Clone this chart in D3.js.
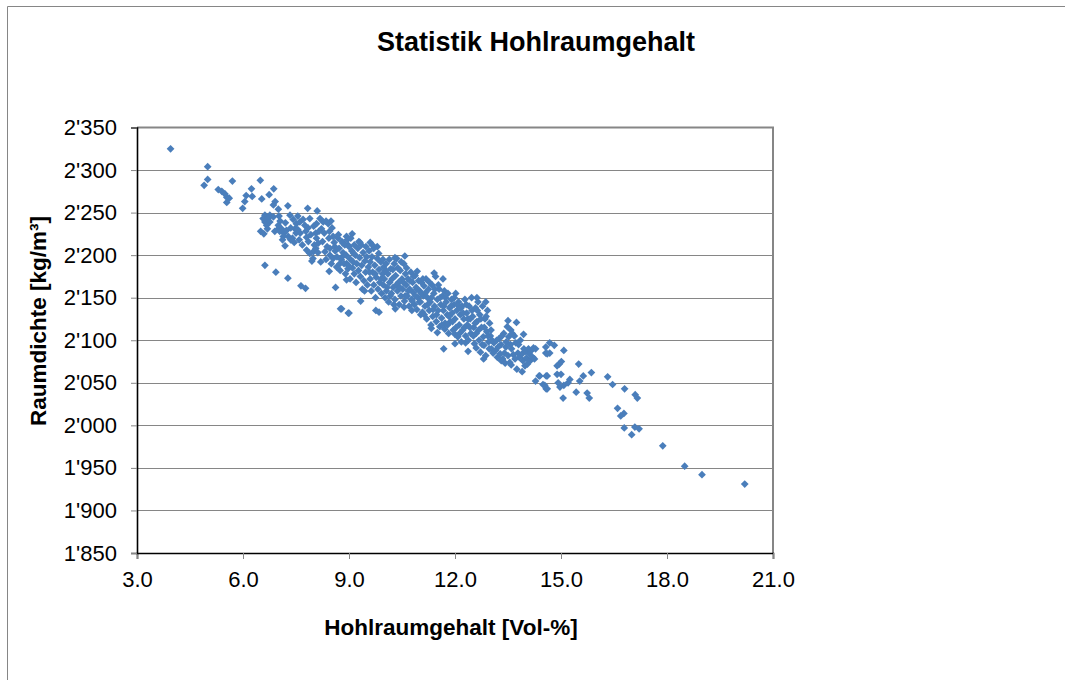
<!DOCTYPE html>
<html>
<head>
<meta charset="utf-8">
<script src="https://cdn.jsdelivr.net/npm/d3@7"></script>
<style>
  body { margin: 0; background: #fff; }
  text { font-family: "Liberation Sans", Arial, sans-serif; fill: #000; }
</style>
</head>
<body>
<div id="chart"></div>
<script>
const chartTitle = "Statistik Hohlraumgehalt";
const xLabel = "Hohlraumgehalt [Vol-%]";
const yLabel = "Raumdichte [kg/m³]";
const xTicks = [3, 6, 9, 12, 15, 18, 21];
const yTicks = [1850, 1900, 1950, 2000, 2050, 2100, 2150, 2200, 2250, 2300, 2350];

// same order in both arrays
const voidContent = [
  3.95,5.0,5.0,4.9,5.7,5.3,5.4,5.49,5.54,5.61,5.54,6.49,6.24,6.87,6.09,6.26,6.74,6.53,6.05,5.99,6.91,6.86,7.27,7.0,7.83,8.1,
  6.62,6.93,7.27,7.64,7.77,8.62,8.76,8.98,8.44,7.95,7.19,6.5,6.59,
  6.62,6.76,6.57,6.71,6.86,6.62,6.76,6.67,6.69,6.9,7.0,7.09,7.04,7.16,7.23,7.0,7.02,7.47,7.51,7.33,7.42,7.61,7.75,7.89,7.84,8.08,8.27,8.49,8.41,8.22,
  7.4,7.59,7.8,8.06,8.08,8.13,8.43,8.55,8.69,8.93,8.83,8.97,8.46,8.6,8.32,8.46,8.55,8.65,8.74,8.93,8.97,7.99,7.8,8.06,7.89,8.93,8.83,7.14,
  9.09,9.6,9.8,9.31,10.3,10.58,10.93,11.41,11.66,12.62,12.87,13.5,13.74,13.94,
  8.79,9.0,9.33,9.76,9.85,10.31,10.56,10.78,11.03,11.33,11.5,11.71,12.0,12.0,11.68,12.3,12.37,12.6,12.81,13.31,13.59,13.9,14.28,14.38,14.58,14.58,14.49,
  8.52,8.58,8.61,8.66,8.7,8.72,8.75,8.78,8.8,8.83,8.86,8.88,8.9,8.92,8.95,8.98,
  9.0,9.02,9.03,9.05,9.08,9.1,9.12,9.15,9.15,9.18,9.2,9.22,9.25,9.27,9.3,9.32,9.35,9.36,9.38,9.4,9.42,9.45,9.47,9.48,
  9.5,9.52,9.55,9.57,9.6,9.6,9.63,9.65,9.67,9.7,9.7,9.73,9.75,9.77,9.8,9.82,9.85,9.87,9.9,9.92,9.95,9.97,9.98,
  10.0,10.02,10.05,10.08,10.1,10.12,10.15,10.18,10.2,10.22,10.25,10.28,10.3,10.32,10.35,10.37,10.4,10.42,10.45,10.47,10.5,
  10.52,10.55,10.57,10.6,10.62,10.65,10.67,10.7,10.72,10.75,10.77,10.8,10.82,10.85,10.87,10.9,10.92,10.95,10.97,
  11.0,11.02,11.05,11.08,11.1,11.12,11.15,11.18,11.2,11.22,11.25,11.27,11.3,11.32,11.35,11.37,11.4,11.42,11.45,11.47,11.5,
  11.52,11.55,11.57,11.6,11.62,11.65,11.67,11.7,11.72,11.75,11.78,11.8,11.82,11.85,11.87,11.9,11.92,11.95,11.97,
  12.0,12.02,12.05,12.08,12.1,12.12,12.15,12.18,12.2,12.22,12.25,12.28,12.3,12.33,12.35,12.38,12.4,12.43,12.45,12.47,
  12.5,12.53,12.55,12.58,12.6,12.62,12.65,12.68,12.7,12.72,12.75,12.78,12.8,12.82,12.85,12.87,12.9,12.92,12.95,12.98,
  13.0,13.03,13.05,13.1,13.15,13.18,13.2,13.25,13.3,13.35,13.38,13.4,13.42,13.45,13.48,
  13.5,13.52,13.55,13.58,13.6,13.65,13.68,13.72,13.75,13.78,13.82,13.85,13.9,13.92,13.95,13.98,
  14.0,14.02,14.05,14.08,14.1,14.13,14.16,14.2,14.22,14.25,14.28,
  14.68,14.81,14.57,15.08,14.57,14.68,14.61,15.01,14.95,14.89,15.5,15.86,15.63,16.32,16.46,15.53,15.25,16.8,17.1,17.16,
  14.89,15.0,14.61,14.4,14.92,14.97,15.08,15.2,14.54,14.61,15.43,15.74,15.8,15.06,16.6,16.78,16.69,16.79,17.09,17.21,17.0,17.88,18.5,18.99,20.2,
  7.05,7.12,7.2,7.28,7.35,7.45,7.5,7.55,7.62,7.7,7.68,7.78,7.85,7.92,7.98,8.0,8.02,8.12,8.15,8.2,8.25,8.3,8.35,8.38,8.45,8.5,8.18,8.35,7.55,7.35,
  9.13,9.28,9.44,9.58,9.66,9.74,9.84,9.91,9.96,10.03,10.06,10.14,10.17,10.24,10.27,10.34,10.38,10.44,10.48,10.54,10.59,10.63,10.68,10.73,10.79,10.83,10.88,10.93,10.99,
  11.04,11.09,11.13,11.17,11.23,11.28,11.33,11.38,11.43,11.48,11.53,11.58,11.63,11.68,11.73,11.79,11.83,11.88,11.93,11.98,
  12.03,12.07,12.13,12.17,12.23,12.27,12.32,12.37,12.42,12.48,12.52,12.57,12.63,12.67,12.73,12.77,12.83,12.88,12.93,12.97,
  13.02,13.08,13.22,13.28,13.33,13.44,13.57,13.62,13.7,13.8
];
const bulkDensity = [
  2325,2304,2289,2282,2287,2277,2275,2272,2268,2267,2262,2288,2278,2278,2270,2269,2271,2266,2263,2255,2263,2259,2258,2254,2255,2252,
  2188,2180,2173,2164,2161,2162,2137,2132,2181,2193,2211,2228,2225,
  2247,2247,2243,2243,2245,2239,2239,2235,2231,2228,2231,2231,2228,2226,2229,2235,2246,2231,2237,2247,2242,2239,2235,2243,2232,2237,2239,2240,2237,2231,
  2220,2218,2221,2226,2220,2214,2220,2222,2220,2222,2214,2212,2208,2210,2204,2200,2196,2186,2190,2190,2184,2204,2206,2208,2202,2171,2199,2222,
  2225,2215,2210,2215,2197,2199,2181,2179,2172,2150,2145,2123,2121,2107,
  2137,2132,2146,2135,2133,2137,2139,2135,2130,2114,2109,2113,2107,2096,2090,2097,2087,2091,2078,2076,2071,2063,2052,2058,2058,2043,2048,
  2232,2215,2205,2198,2224,2208,2182,2195,2216,2203,2190,2212,2178,2200,2218,2188,
  2210,2196,2172,2220,2205,2185,2192,2212,2178,2200,2168,2190,2208,2182,2197,2175,2212,2188,2160,2203,2170,2193,2180,2210,
  2198,2165,2186,2205,2172,2192,2158,2198,2180,2208,2165,2188,2150,2174,2196,2160,2183,2168,2192,2155,2178,2165,2186,
  2172,2150,2190,2162,2178,2145,2168,2184,2155,2172,2162,2190,2148,2176,2196,2158,2168,2142,2182,2152,2172,
  2160,2190,2146,2178,2165,2152,2172,2140,2160,2180,2148,2168,2156,2142,2176,2162,2136,2150,2170,
  2158,2145,2168,2133,2152,2164,2140,2172,2125,2150,2160,2135,2145,2118,2165,2128,2155,2140,2175,2122,2148,
  2135,2160,2116,2142,2126,2152,2135,2158,2120,2145,2130,2155,2108,2138,2122,2148,2132,2112,2142,
  2125,2155,2135,2104,2145,2118,2130,2098,2140,2112,2125,2148,2105,2132,2118,2100,2140,2125,2108,2150,
  2128,2115,2096,2138,2108,2122,2145,2100,2130,2086,2115,2140,2104,2094,2125,2082,2110,2135,2098,2120,
  2105,2090,2100,2097,2088,2100,2080,2102,2095,2078,2108,2085,2073,2098,2116,
  2082,2104,2074,2112,2090,2083,2105,2097,2066,2085,2080,2100,2084,2076,2090,2070,
  2087,2079,2072,2090,2084,2076,2088,2080,2091,2078,2090,
  2097,2094,2092,2088,2085,2085,2084,2075,2072,2070,2072,2062,2058,2057,2048,2052,2054,2043,2036,2032,
  2060,2060,2058,2058,2050,2045,2047,2050,2047,2043,2039,2038,2032,2032,2020,2014,2011,1997,1998,1996,1989,1976,1952,1942,1931,
  2240,2218,2238,2222,2232,2215,2226,2246,2226,2242,2212,2228,2216,2224,2196,2234,2212,2203,2228,2192,2216,2226,2195,2210,2228,2190,2243,2240,2230,2218,
  2202,2216,2158,2180,2212,2178,2202,2172,2195,2182,2158,2195,2152,2183,2142,2165,2185,2162,2192,2168,2152,2185,2158,2170,2146,2175,2152,2160,2145,
  2155,2172,2130,2156,2142,2168,2150,2136,2160,2130,2165,2150,2118,2140,2150,2118,2128,2140,2122,2150,
  2115,2142,2108,2138,2132,2115,2142,2125,2115,2135,2105,2120,2135,2112,2125,2095,2115,2128,2105,2090,
  2112,2085,2092,2084,2105,2092,2095,2108,2078,2095
];

const width = 1065;
const height = 680;
const plot = { left: 137, right: 773, top: 127.5, bottom: 553 };
const gridColor = "#868686";

const svg = d3.select("#chart").append("svg")
  .attr("width", width)
  .attr("height", height)
  .style("display", "block");

const x = d3.scaleLinear().domain([3, 21]).range([plot.left, plot.right]);
const y = d3.scaleLinear().domain([1850, 2350]).range([plot.bottom, plot.top]);

// outer chart frame, only top and left edges are in view
svg.append("path")
  .attr("d", `M7.5,${height} V6.5 H${width}`)
  .attr("fill", "none")
  .attr("stroke", gridColor)
  .attr("stroke-width", 1);

svg.append("g")
  .selectAll("line")
  .data(yTicks.slice(1, -1))
  .join("line")
  .attr("x1", plot.left)
  .attr("x2", plot.right)
  .attr("y1", d => Math.round(y(d)) + 0.5)
  .attr("y2", d => Math.round(y(d)) + 0.5)
  .attr("stroke", gridColor)
  .attr("stroke-width", 1);

// top and right edge of the plot area
svg.append("path")
  .attr("d", `M${plot.left},${plot.top} H${plot.right} V${plot.bottom}`)
  .attr("fill", "none")
  .attr("stroke", gridColor)
  .attr("stroke-width", 2);

const locale = d3.formatLocale({ decimal: ".", thousands: "'", grouping: [3], currency: ["", ""] });

const xAxis = svg.append("g")
  .attr("transform", `translate(0,${plot.bottom})`)
  .call(d3.axisBottom(x).tickValues(xTicks).tickFormat(d3.format(".1f")).tickSize(6).tickPadding(12));

const yAxis = svg.append("g")
  .attr("transform", `translate(${plot.left},0)`)
  .call(d3.axisLeft(y).tickValues(yTicks).tickFormat(locale.format(",d")).tickSize(6).tickPadding(14));

[xAxis, yAxis].forEach(axis => {
  axis.selectAll(".tick line").attr("stroke", gridColor);
  axis.selectAll(".tick text").style("font-size", "22px").attr("fill", "#000");
  axis.select(".domain").attr("stroke", "#000").attr("stroke-width", 1.6);
});

const points = d3.zip(voidContent, bulkDensity);
const diamond = d3.symbol().type(d3.symbolSquare).size(30);

svg.append("g")
  .selectAll("path")
  .data(points)
  .join("path")
  .attr("d", diamond)
  .attr("transform", d => `translate(${x(d[0])},${y(d[1])}) rotate(45)`)
  .attr("fill", "#4a7ebb");

svg.append("text")
  .attr("x", 536)
  .attr("y", 51)
  .attr("text-anchor", "middle")
  .style("font-size", "27px")
  .style("font-weight", "bold")
  .text(chartTitle);

svg.append("text")
  .attr("x", 451)
  .attr("y", 635)
  .attr("text-anchor", "middle")
  .style("font-size", "22.5px")
  .style("font-weight", "bold")
  .text(xLabel);

svg.append("text")
  .attr("transform", "translate(46,321) rotate(-90)")
  .attr("text-anchor", "middle")
  .style("font-size", "22.5px")
  .style("font-weight", "bold")
  .text(yLabel);
</script>
</body>
</html>
